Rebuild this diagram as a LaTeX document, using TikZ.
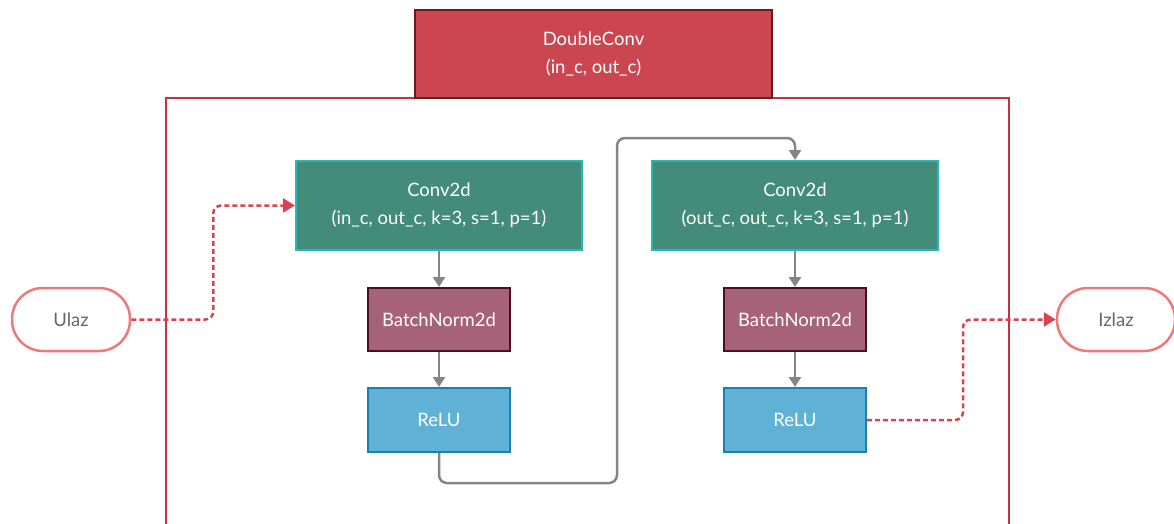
\documentclass[tikz,border=0pt]{standalone}
\usepackage{fontspec}
\setmainfont{Lato}
\usetikzlibrary{arrows.meta, positioning, calc}
\definecolor{titlered}{HTML}{CB4650}
\definecolor{titleline}{HTML}{6B1A20}
\definecolor{framered}{HTML}{C8303C}
\definecolor{convfill}{HTML}{438C79}
\definecolor{convline}{HTML}{2BB5B4}
\definecolor{bnfill}{HTML}{A56278}
\definecolor{bnline}{HTML}{4C0E25}
\definecolor{relufill}{HTML}{5FB1D6}
\definecolor{reluline}{HTML}{1A80B2}
\definecolor{pillline}{HTML}{F07878}
\definecolor{dashred}{HTML}{D9434F}
\definecolor{flowgray}{HTML}{858585}

\begin{document}
\begin{tikzpicture}[x=1pt, y=-1pt,
    box/.style={draw, line width=2pt, inner sep=0pt, text=white, align=center,
        font=\fontsize{18.5}{28}\selectfont},
    convbox/.style={box, fill=convfill, draw=convline, minimum width=286pt, minimum height=89pt},
    bnbox/.style={box, fill=bnfill, draw=bnline, minimum width=142pt, minimum height=63pt},
    relubox/.style={box, fill=relufill, draw=reluline, minimum width=142pt, minimum height=64pt},
    pill/.style={draw=pillline, line width=2.5pt, rounded corners=31pt, minimum width=118pt,
        minimum height=63pt, text=black!60, font=\fontsize{18.5}{28}\selectfont},
    flow/.style={draw=flowgray, line width=2.5pt, rounded corners=8pt,
        -{Triangle[width=12pt, length=10pt]}},
    signal/.style={draw=dashred, line width=2.5pt, dash pattern=on 5pt off 3pt, rounded corners=8pt,
        -{Triangle[width=14pt, length=12pt, fill=dashred]}}
]
    \useasboundingbox (0,0) rectangle (1174,524);

    % outer frame
    \draw[framered, line width=2pt] (166,540) -- (166,98) -- (1009,98) -- (1009,540);
    \node[box, fill=titlered, draw=titleline, minimum width=357pt, minimum height=88pt] (title) at (593.5,54) {DoubleConv\\(in\_c, out\_c)};

    % first block
    \node[convbox] (conv1) at (439,205.5) {Conv2d\\(in\_c, out\_c, k=3, s=1, p=1)};
    \node[bnbox] (bn1) at (439,319.5) {BatchNorm2d};
    \node[relubox] (relu1) at (439,420) {ReLU};

    % second block
    \node[convbox] (conv2) at (795,205.5) {Conv2d\\(out\_c, out\_c, k=3, s=1, p=1)};
    \node[bnbox] (bn2) at (795,319.5) {BatchNorm2d};
    \node[relubox] (relu2) at (795,420) {ReLU};

    % input / output
    \node[pill] (ulaz) at (71,319.5) {Ulaz};
    \node[pill] (izlaz) at (1116,319.5) {Izlaz};
    \coordinate (turn) at (617,138);

    \draw[flow] (conv1) -- (bn1);
    \draw[flow] (bn1) -- (relu1);
    \draw[flow] (relu1.south) -- ++(0,30) -| (turn) -| (conv2.north);
    \draw[flow] (conv2) -- (bn2);
    \draw[flow] (bn2) -- (relu2);

    \draw[signal] (ulaz.east) -- ++(82,0) |- (conv1.west);
    \draw[signal] (relu2.east) -- ++(96,0) |- (izlaz.west);
\end{tikzpicture}
\end{document}
